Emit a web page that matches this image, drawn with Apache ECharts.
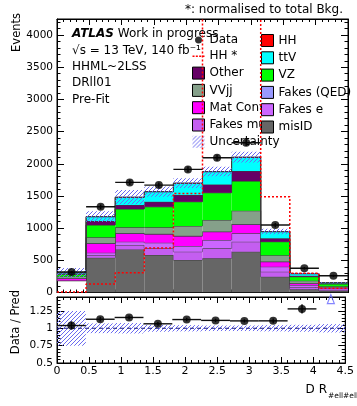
<!DOCTYPE html>
<html>
<head>
<meta charset="utf-8">
<script src="https://cdn.jsdelivr.net/npm/echarts@6/dist/echarts.min.js"></script>
<style>
  html, body { margin: 0; padding: 0; background: #fff; }
  #chart { width: 357px; height: 406px; }
</style>
</head>
<body>
<div id="chart"></div>
<script>
const fontFamily = 'DejaVu Sans';

// DR_ll bins
const binEdges = [0, 0.45, 0.9, 1.35, 1.8, 2.25, 2.7, 3.15, 3.6, 4.05, 4.5];

// stacked backgrounds, bottom to top (first bin starts above zero in the plot)
const stackStart = [185, 0, 0, 0, 0, 0, 0, 0, 0, 0];
const misID = [0, 540, 670, 582, 505, 531, 634, 245, 50, 23];
const fakesMu = [0, 42, 68, 104, 129, 155, 155, 78, 31, 16];
const fakesE = [0, 36, 51, 87, 88, 129, 130, 78, 35, 20];
const matConv = [35, 146, 130, 135, 155, 129, 140, 77, 27, 16];
const fakesQED = [2, 4, 5, 5, 5, 5, 5, 3, 2, 1];
const vvjj = [28, 89, 88, 99, 151, 177, 206, 97, 38, 20];
const vz = [35, 191, 285, 320, 377, 424, 461, 211, 62, 36];
const other = [5, 62, 62, 78, 104, 130, 156, 53, 16, 11];
const ttV = [15, 67, 119, 155, 182, 196, 212, 102, 31, 9];
const hh = [1, 2, 3, 3, 4, 4, 4, 3, 2, 1];

const dataCounts = [318, 1332, 1711, 1669, 1913, 2093, 2326, 1048, 376, 261];
const hhNorm = [8, 132, 307, 690, 1540, 5200, 4800, 1488, 300, 65];  // HH *, normalised to total bkg
const relUnc = [0.25, 0.07, 0.075, 0.05, 0.045, 0.04, 0.04, 0.045, 0.05, 0.06];

const mainMax = 4250;
const ratioMin = 0.5;
const ratioMax = 1.45;

const components = [
  { name: 'misID', values: misID, color: '#666666' },
  { name: 'Fakes mu', values: fakesMu, color: '#c45ef0' },
  { name: 'Fakes e', values: fakesE, color: '#cc66ff' },
  { name: 'Mat Conv', values: matConv, color: '#ff00ff' },
  { name: 'Fakes (QED)', values: fakesQED, color: '#9999ff' },
  { name: 'VVjj', values: vvjj, color: '#85a08a' },
  { name: 'VZ', values: vz, color: '#00ff00' },
  { name: 'Other', values: other, color: '#660066' },
  { name: 'ttV', values: ttV, color: '#00ffff' },
  { name: 'HH', values: hh, color: '#ff0000' }
];

const centers = binEdges.slice(0, -1).map((e, i) => (e + binEdges[i + 1]) / 2);

function makeHatch() {
  const c = document.createElement('canvas');
  c.width = 4;
  c.height = 4;
  const ctx = c.getContext('2d');
  ctx.strokeStyle = '#6a6af0';
  ctx.lineWidth = 1;
  ctx.beginPath();
  ctx.moveTo(-1, 5); ctx.lineTo(5, -1);
  ctx.moveTo(-1, 1); ctx.lineTo(1, -1);
  ctx.moveTo(3, 5); ctx.lineTo(5, 3);
  ctx.stroke();
  return { image: c, repeat: 'repeat' };
}
const hatch = makeHatch();

// build stacked rows [xlo, xhi, ylo, yhi]
let running = stackStart.slice();
const stackSeries = components.map(comp => {
  const rows = comp.values.map((v, i) => [binEdges[i], binEdges[i + 1], running[i], running[i] + v]);
  running = rows.map(r => r[3]);
  return {
    type: 'custom',
    name: comp.name,
    xAxisIndex: 0,
    yAxisIndex: 0,
    clip: true,
    z: 2,
    itemStyle: { color: comp.color },
    encode: { x: [0, 1], y: [2, 3] },
    data: rows,
    renderItem: function (params, api) {
      const i = params.dataIndex;
      const a = api.coord([api.value(0), api.value(2)]);
      const b = api.coord([api.value(1), api.value(3)]);
      const prevTop = i > 0 ? rows[i - 1][3] : api.value(2);
      const p = api.coord([api.value(0), prevTop]);
      return {
        type: 'group',
        children: [
          { type: 'rect', shape: { x: a[0], y: b[1], width: b[0] - a[0], height: a[1] - b[1] },
            style: { fill: comp.color } },
          { type: 'polyline', shape: { points: [[a[0], p[1]], [a[0], b[1]], [b[0], b[1]]] },
            style: { stroke: '#3c3c3c', lineWidth: 1, fill: null } }
        ]
      };
    }
  };
});
const total = running;
const ratio = dataCounts.map((d, i) => d / total[i]);

function rectRender(fill) {
  return function (params, api) {
    const a = api.coord([api.value(0), api.value(2)]);
    const b = api.coord([api.value(1), api.value(3)]);
    return { type: 'rect', shape: { x: a[0], y: b[1], width: b[0] - a[0], height: a[1] - b[1] },
      style: { fill: fill } };
  };
}

// horizontal bin-width bar plus vertical stat. error
function errRender(params, api) {
  const l = api.coord([api.value(0), api.value(2)]);
  const r = api.coord([api.value(1), api.value(2)]);
  const lo = api.coord([(api.value(0) + api.value(1)) / 2, api.value(3)]);
  const hi = api.coord([(api.value(0) + api.value(1)) / 2, api.value(4)]);
  return {
    type: 'group',
    children: [
      { type: 'line', shape: { x1: l[0], y1: l[1], x2: r[0], y2: r[1] }, style: { stroke: '#111', lineWidth: 1.4 } },
      { type: 'line', shape: { x1: lo[0], y1: lo[1], x2: hi[0], y2: hi[1] }, style: { stroke: '#111', lineWidth: 1.4 } }
    ]
  };
}

function xAx(grid, pos, showLabels) {
  return {
    type: 'value', gridIndex: grid, position: pos, min: 0, max: 4.5, interval: 0.5,
    axisLine: { show: true, onZero: false, lineStyle: { color: '#000', width: 1 } },
    axisTick: { show: true, inside: true, length: 6, lineStyle: { color: '#000' } },
    minorTick: { show: true, splitNumber: 5, length: 3, lineStyle: { color: '#000' } },
    splitLine: { show: false },
    axisLabel: { show: showLabels, fontFamily: fontFamily, fontSize: 11, color: '#000', margin: 3,
      formatter: v => String(v) }
  };
}
function yAx(grid, pos, min, max, interval, showLabels) {
  return {
    type: 'value', gridIndex: grid, position: pos, min: min, max: max, interval: interval,
    axisLine: { show: true, onZero: false, lineStyle: { color: '#000', width: 1 } },
    axisTick: { show: true, inside: true, length: 7, lineStyle: { color: '#000' } },
    minorTick: { show: true, splitNumber: 5, length: 3.5, lineStyle: { color: '#000' } },
    splitLine: { show: false },
    axisLabel: { show: showLabels, showMaxLabel: false, fontFamily: fontFamily, fontSize: 10.5,
      color: '#000', margin: 4, formatter: v => String(+v.toFixed(2)) }
  };
}

const legendCommon = {
  orient: 'vertical', itemWidth: 12, itemHeight: 12, itemGap: 4.3, icon: 'rect',
  selectedMode: false,
  itemStyle: { borderColor: '#000', borderWidth: 1 },
  textStyle: { fontFamily: fontFamily, fontSize: 12, color: '#000', lineHeight: 12 }
};

function txt(text, x, y, extra) {
  return {
    type: 'text', x: x, y: y, silent: true,
    style: Object.assign({ text: text, fontFamily: fontFamily, fontSize: 12, fill: '#000',
      verticalAlign: 'middle' }, extra || {})
  };
}

const chart = echarts.init(document.getElementById('chart'));
chart.setOption({
  animation: false,
  backgroundColor: '#fff',
  grid: [
    { left: 57, top: 19, width: 291, height: 273.5, show: true, borderColor: '#000', borderWidth: 1 },
    { left: 57, top: 297, width: 291, height: 66, show: true, borderColor: '#000', borderWidth: 1 }
  ],
  xAxis: [xAx(0, 'bottom', false), xAx(0, 'top', false), xAx(1, 'bottom', true), xAx(1, 'top', false)],
  yAxis: [
    yAx(0, 'left', 0, mainMax, 500, true), yAx(0, 'right', 0, mainMax, 500, false),
    yAx(1, 'left', ratioMin, ratioMax, 0.25, true), yAx(1, 'right', ratioMin, ratioMax, 0.25, false)
  ],
  legend: [
    Object.assign({}, legendCommon, {
      left: 187, top: 29,
      data: [
        { name: 'Data', icon: 'path://M0,6h12v0.01h-12z M6,2.5a3.5,3.5 0 1 0 0.01,0z',
          itemStyle: { borderWidth: 0, color: '#000' } },
        { name: 'HH *', icon: 'path://M0,0h2v1.4h-2z M3.3,0h2v1.4h-2z M6.6,0h2v1.4h-2z M9.9,0h2v1.4h-2z',
          itemStyle: { borderWidth: 0, color: '#ff0000' } },
        'Other', 'VVjj', 'Mat Conv', 'Fakes mu',
        { name: 'Uncertainty', itemStyle: { borderWidth: 0, color: hatch } }
      ]
    }),
    Object.assign({}, legendCommon, {
      left: 256, top: 29,
      data: ['HH', 'ttV', 'VZ', 'Fakes (QED)', 'Fakes e', 'misID']
    })
  ],
  graphic: [
    txt('*: normalised to total Bkg.', 343, 10, { align: 'right' }),
    txt('{b|ATLAS} Work in progress', 72, 34, {
      rich: { b: { fontFamily: fontFamily, fontSize: 12, fontWeight: 'bold', fontStyle: 'italic' } }
    }),
    txt('\u221As = 13 TeV, 140 fb\u207B\u00B9', 72, 50.5),
    txt('HHML~2LSS', 72, 67),
    txt('DRll01', 72, 83),
    txt('Pre-Fit', 72, 99.5),
    txt('D R', 327, 390, { align: 'right' }),
    txt('#ell#ell', 328, 396, { align: 'left', fontSize: 7.5 }),
    Object.assign(txt('Events', 17, 13, { align: 'right', fontSize: 11.5 }), { rotation: Math.PI / 2 }),
    Object.assign(txt('Data / Pred', 16, 290, { align: 'right', fontSize: 11.5 }), { rotation: Math.PI / 2 })
  ],
  series: stackSeries.concat([
    {
      type: 'custom', name: 'Uncertainty', xAxisIndex: 0, yAxisIndex: 0, clip: true, z: 3,
      itemStyle: { color: hatch },
      encode: { x: [0, 1], y: [2, 3] },
      data: total.map((t, i) => [binEdges[i], binEdges[i + 1], t * (1 - relUnc[i]), t * (1 + relUnc[i])]),
      renderItem: rectRender(hatch)
    },
    {
      type: 'line', name: 'HH *', xAxisIndex: 0, yAxisIndex: 0, step: 'end', symbol: 'none', clip: true, z: 4,
      itemStyle: { color: '#ff0000' },
      lineStyle: { color: '#ff0000', width: 1.5, type: [2, 2] },
      data: binEdges.map((e, i) => [e, hhNorm[Math.min(i, hhNorm.length - 1)]])
    },
    {
      type: 'custom', xAxisIndex: 0, yAxisIndex: 0, clip: true, z: 5,
      encode: { x: [0, 1], y: 2 },
      data: dataCounts.map((d, i) => [binEdges[i], binEdges[i + 1], d, d - Math.sqrt(d), d + Math.sqrt(d)]),
      renderItem: errRender
    },
    {
      type: 'scatter', name: 'Data', xAxisIndex: 0, yAxisIndex: 0, symbol: 'circle', symbolSize: 8, z: 6,
      itemStyle: { color: '#000' },
      data: centers.map((c, i) => [c, dataCounts[i]])
    },
    // ratio panel
    {
      type: 'custom', xAxisIndex: 2, yAxisIndex: 2, clip: true, z: 3,
      encode: { x: [0, 1], y: [2, 3] },
      data: relUnc.map((u, i) => [binEdges[i], binEdges[i + 1], 1 - u, 1 + u]),
      renderItem: rectRender(hatch)
    },
    {
      type: 'line', xAxisIndex: 2, yAxisIndex: 2, symbol: 'none', z: 4,
      lineStyle: { color: '#1a1a80', width: 1, type: [4, 3] },
      data: [[0, 1], [4.5, 1]]
    },
    {
      type: 'custom', xAxisIndex: 2, yAxisIndex: 2, clip: true, z: 5,
      encode: { x: [0, 1], y: 2 },
      data: ratio.map((r, i) => [binEdges[i], binEdges[i + 1], r,
        r - Math.sqrt(dataCounts[i]) / total[i], r + Math.sqrt(dataCounts[i]) / total[i]])
        .filter(r => r[2] <= ratioMax),
      renderItem: errRender
    },
    {
      type: 'scatter', xAxisIndex: 2, yAxisIndex: 2, symbol: 'circle', symbolSize: 8, z: 6,
      itemStyle: { color: '#000' },
      data: centers.map((c, i) => [c, ratio[i]]).filter(p => p[1] <= ratioMax)
    },
    {
      type: 'scatter', xAxisIndex: 2, yAxisIndex: 2, symbol: 'triangle', symbolSize: [7, 9], z: 6,
      itemStyle: { color: 'rgba(0,0,0,0)', borderColor: '#6666ff', borderWidth: 1.2 },
      data: centers.map((c, i) => [c, ratio[i]]).filter(p => p[1] > ratioMax).map(p => [p[0], ratioMax - 0.03])
    }
  ])
});
</script>
</body>
</html>
